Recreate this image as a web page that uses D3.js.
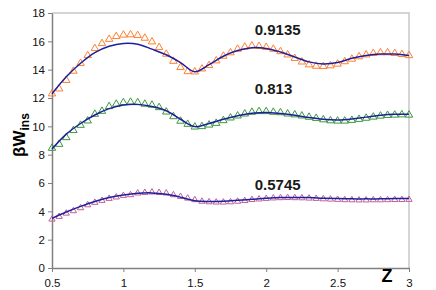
<!DOCTYPE html>
<html>
<head>
<meta charset="utf-8">
<script src="https://cdn.jsdelivr.net/npm/d3@7"></script>
<style>
  body { margin: 0; background: #fff; }
  text { font-family: Arial, "Liberation Sans", sans-serif; }
</style>
</head>
<body>
<div id="chart"></div>
<script>
// z positions of the measured points
const zPoints = [0.5, 0.55, 0.6, 0.65, 0.7, 0.75, 0.8, 0.85, 0.9, 0.95,
  1.0, 1.05, 1.1, 1.15, 1.2, 1.25, 1.3, 1.35, 1.4, 1.45,
  1.5, 1.55, 1.6, 1.65, 1.7, 1.75, 1.8, 1.85, 1.9, 1.95,
  2.0, 2.05, 2.1, 2.15, 2.2, 2.25, 2.3, 2.35, 2.4, 2.45,
  2.5, 2.55, 2.6, 2.65, 2.7, 2.75, 2.8, 2.85, 2.9, 2.95, 3.0];

const orangePts = [12.3, 12.65, 13.25, 13.9, 14.45, 15.0, 15.5, 15.85, 16.15, 16.35,
  16.45, 16.47, 16.42, 16.23, 15.97, 15.57, 15.1, 14.6, 14.16, 13.87,
  13.85, 14.06, 14.3, 14.63, 14.96, 15.2, 15.45, 15.6, 15.68, 15.65,
  15.58, 15.45, 15.28, 15.05, 14.8, 14.55, 14.35, 14.25, 14.23, 14.28,
  14.4, 14.57, 14.75, 14.92, 15.05, 15.15, 15.2, 15.2, 15.15, 15.08, 15.0];

const greenPts = [8.46, 8.74, 9.21, 9.71, 10.08, 10.39, 10.86, 11.07, 11.4, 11.57,
  11.68, 11.71, 11.68, 11.57, 11.5, 11.33, 11.02, 10.69, 10.37, 10.15,
  9.96, 9.99, 10.1, 10.22, 10.41, 10.6, 10.74, 10.88, 11.0, 11.05,
  11.05, 11.0, 10.97, 10.88, 10.82, 10.74, 10.65, 10.57, 10.47, 10.4,
  10.38, 10.38, 10.43, 10.5, 10.58, 10.66, 10.73, 10.78, 10.8, 10.82, 10.8];

const purplePts = [3.44, 3.63, 3.86, 4.03, 4.24, 4.45, 4.62, 4.76, 4.9, 5.0,
  5.11, 5.16, 5.28, 5.32, 5.35, 5.32, 5.28, 5.16, 5.04, 4.92,
  4.81, 4.7, 4.66, 4.64, 4.64, 4.66, 4.7, 4.75, 4.82, 4.86,
  4.9, 4.93, 4.95, 4.96, 4.95, 4.94, 4.92, 4.9, 4.87, 4.85,
  4.83, 4.81, 4.8, 4.79, 4.79, 4.8, 4.8, 4.81, 4.82, 4.82, 4.83];

// z positions of the fitted curves
const zFit = [0.5, 0.6, 0.7, 0.8, 0.9, 1.0, 1.1, 1.2, 1.3, 1.4, 1.5, 1.6, 1.7,
  1.8, 1.9, 2.0, 2.1, 2.2, 2.3, 2.4, 2.5, 2.6, 2.7, 2.8, 2.9, 3.0];

const orangeFit = [12.3, 13.5, 14.45, 15.2, 15.65, 15.85, 15.8, 15.45, 15.05, 14.5, 13.85, 14.35, 14.95,
  15.35, 15.55, 15.5, 15.25, 14.9, 14.55, 14.4, 14.5, 14.8, 15.0, 15.1, 15.1, 15.0];
const greenFit = [8.4, 9.45, 10.2, 10.8, 11.25, 11.5, 11.55, 11.4, 11.1, 10.5, 9.98, 10.2, 10.5,
  10.75, 10.92, 10.98, 10.9, 10.78, 10.62, 10.5, 10.45, 10.52, 10.65, 10.78, 10.85, 10.85];
const purpleFit = [3.5, 3.95, 4.35, 4.7, 4.97, 5.15, 5.27, 5.3, 5.2, 5.0, 4.75, 4.7, 4.72,
  4.78, 4.85, 4.92, 4.97, 4.98, 4.97, 4.93, 4.9, 4.88, 4.88, 4.88, 4.9, 4.9];

const labels = ["0.9135", "0.813", "0.5745"];
const labelPos = [[1.92, 16.45], [1.92, 12.3], [1.92, 5.5]];

const yTicks = [0, 2, 4, 6, 8, 10, 12, 14, 16, 18];
const xTicks = [0.5, 1, 1.5, 2, 2.5, 3];

const width = 436;
const height = 290;
const mLeft = 52, mRight = 409, mTop = 13, mBottom = 268;

const x = d3.scaleLinear().domain([0.5, 3]).range([mLeft, mRight]);
const y = d3.scaleLinear().domain([0, 18]).range([mBottom, mTop]);

const svg = d3.select("#chart").append("svg")
  .attr("width", width)
  .attr("height", height);

// plot area border (top / right)
svg.append("path")
  .attr("d", `M${mLeft},${mTop}H${mRight}V${mBottom}`)
  .attr("fill", "none")
  .attr("stroke", "#c8c8c8")
  .attr("stroke-width", 1.5);

const yAxis = svg.append("g")
  .attr("transform", `translate(${mLeft},0)`)
  .call(d3.axisLeft(y).tickValues(yTicks).tickSize(4).tickSizeOuter(0).tickPadding(3));

const xAxis = svg.append("g")
  .attr("transform", `translate(0,${mBottom})`)
  .call(d3.axisBottom(x).tickValues(xTicks).tickSize(4).tickSizeOuter(0).tickPadding(7)
    .tickFormat(d3.format("")));

[yAxis, xAxis].forEach((g) => {
  g.select(".domain").attr("stroke", "#808080").attr("stroke-width", 1.5);
  g.selectAll(".tick line").attr("stroke", "#808080");
  g.selectAll(".tick text").attr("fill", "#111").style("font-size", "11.5px");
});

const series = [
  { pts: orangePts, fit: orangeFit, color: "#ff8030", size: 24 },
  { pts: greenPts, fit: greenFit, color: "#3a9a3a", size: 24 },
  { pts: purplePts, fit: purpleFit, color: "#c0609a", size: 17 }
];

const tri = d3.symbol().type(d3.symbolTriangle);
const line = d3.line()
  .x((d) => x(d[0]))
  .y((d) => y(d[1]))
  .curve(d3.curveCatmullRom);

series.forEach((s) => {
  svg.append("g")
    .selectAll("path")
    .data(zPoints.map((z, i) => [z, s.pts[i]]))
    .enter()
    .append("path")
    .attr("transform", (d) => `translate(${x(d[0])},${y(d[1])})`)
    .attr("d", tri.size(s.size)())
    .attr("fill", "none")
    .attr("stroke", s.color)
    .attr("stroke-width", 1);
});

series.forEach((s) => {
  svg.append("path")
    .datum(zFit.map((z, i) => [z, s.fit[i]]))
    .attr("d", line)
    .attr("fill", "none")
    .attr("stroke", "#1f1f9c")
    .attr("stroke-width", 1.5);
});

svg.selectAll(".val")
  .data(labels)
  .enter()
  .append("text")
  .attr("class", "val")
  .attr("x", (d, i) => x(labelPos[i][0]))
  .attr("y", (d, i) => y(labelPos[i][1]))
  .style("font-size", "15px")
  .style("font-weight", "bold")
  .attr("fill", "#1a1a1a")
  .text((d) => d);

// axis titles
svg.append("text")
  .attr("x", 387)
  .attr("y", 282)
  .attr("text-anchor", "middle")
  .style("font-size", "18px")
  .style("font-weight", "bold")
  .text("Z");

const yt = svg.append("text")
  .attr("transform", "translate(25,135) rotate(-90)")
  .attr("text-anchor", "middle")
  .style("font-weight", "bold");
yt.append("tspan").style("font-size", "17px").text("βW");
yt.append("tspan").style("font-size", "12px").attr("dy", 4).text("ins");
</script>
</body>
</html>
